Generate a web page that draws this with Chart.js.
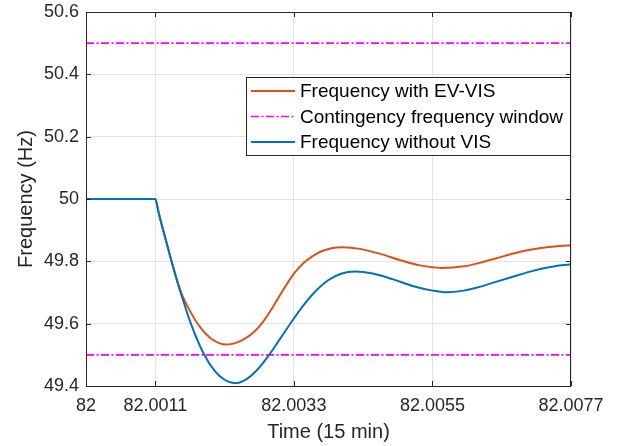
<!DOCTYPE html>
<html>
<head>
<meta charset="utf-8">
<script src="https://cdn.jsdelivr.net/npm/chart.js@4"></script>
<style>
  html,body{margin:0;padding:0;background:#fff;}
  canvas{display:block;}
</style>
</head>
<body>
<canvas id="freqChart" width="617" height="446"></canvas>
<script>
// ---------------- DATA ----------------
const timeWithVIS = [82, 82.0011, 82.00115, 82.0012, 82.00136, 82.00144, 82.00152, 82.00165, 82.0018,
  82.002, 82.002223, 82.00245, 82.00262, 82.002789, 82.00296, 82.00313, 82.003307, 82.00345,
  82.0036, 82.00375, 82.0039, 82.00407, 82.00435, 82.00467, 82.005, 82.0053, 82.00565, 82.006,
  82.00625, 82.00652, 82.0068, 82.00705, 82.00735, 82.0077];
const freqWithVIS = [50, 50, 49.959, 49.919, 49.799, 49.742, 49.695, 49.641, 49.592,
  49.550, 49.533, 49.544, 49.565, 49.600, 49.651, 49.708, 49.762, 49.794,
  49.817, 49.833, 49.842, 49.845, 49.840, 49.824, 49.803, 49.787, 49.779, 49.784,
  49.795, 49.810, 49.826, 49.837, 49.846, 49.852];
const timeWithoutVIS = [82, 82.0011, 82.00115, 82.0012, 82.00136, 82.00144, 82.0015, 82.001662,
  82.001873, 82.00205, 82.0022, 82.002366, 82.00255, 82.0027, 82.002879, 82.00307, 82.003265,
  82.00343, 82.00361, 82.00385, 82.00405, 82.00427, 82.00455, 82.00488, 82.0052, 82.0055,
  82.0057, 82.006, 82.00625, 82.00652, 82.0068, 82.00705, 82.00735, 82.0077];
const freqWithoutVIS = [50, 50, 49.959, 49.919, 49.799, 49.742, 49.702, 49.602,
  49.502, 49.447, 49.420, 49.409, 49.422, 49.448, 49.492, 49.548, 49.606,
  49.653, 49.697, 49.740, 49.760, 49.767, 49.761, 49.742, 49.720, 49.706,
  49.701, 49.706, 49.718, 49.735, 49.752, 49.767, 49.781, 49.791];
const windowLimits = [50.5, 49.5];
const xTicks = [82, 82.0011, 82.0033, 82.0055, 82.0077];
const xTickLabels = ["82", "82.0011", "82.0033", "82.0055", "82.0077"];
const yTicks = [49.4, 49.6, 49.8, 50, 50.2, 50.4, 50.6];
const yTickLabels = ["49.4", "49.6", "49.8", "50", "50.2", "50.4", "50.6"];

const FONT = "'Liberation Sans', Arial, Helvetica, sans-serif";
const AXIS_COL = "#262626";

const toPts = (xs,ys) => xs.map((t,i)=>({x:t,y:ys[i]}));
const flatLine = v => [{x:xTicks[0],y:v},{x:xTicks[xTicks.length-1],y:v}];

// ---------------- BOX, INWARD TICKS, LEGEND ----------------
const matlabFrame = {
  id: "matlabFrame",
  afterDraw(chart){
    const {ctx, chartArea:a, scales:{x,y}} = chart;
    const tl = 5;
    ctx.save();
    ctx.strokeStyle = AXIS_COL;
    ctx.lineWidth = 1;
    ctx.beginPath();
    xTicks.forEach(v=>{
      const px = Math.round(x.getPixelForValue(v))+0.5;
      ctx.moveTo(px,a.bottom); ctx.lineTo(px,a.bottom-tl);
      ctx.moveTo(px,a.top); ctx.lineTo(px,a.top+tl);
    });
    yTicks.forEach(v=>{
      const py = Math.round(y.getPixelForValue(v))+0.5;
      ctx.moveTo(a.left,py); ctx.lineTo(a.left+tl,py);
      ctx.moveTo(a.right,py); ctx.lineTo(a.right-tl,py);
    });
    ctx.stroke();
    ctx.strokeRect(Math.round(a.left)+0.5, Math.round(a.top)+0.5,
                   Math.round(a.right-a.left)-1, Math.round(a.bottom-a.top));

    // legend box
    const lx=246.5, ly=77.5, lw=324, lh=78;
    ctx.fillStyle="#fff";
    ctx.fillRect(lx,ly,lw,lh);
    ctx.strokeStyle="#262626";
    ctx.strokeRect(lx,ly,lw,lh);
    const rows = chart.data.datasets.filter(d=>!d.legendSkip);
    rows.forEach((d,i)=>{
      const cy = 91 + i*25.5;
      ctx.strokeStyle = d.borderColor;
      ctx.lineWidth = d.borderWidth;
      ctx.setLineDash(d.borderDash || []);
      ctx.beginPath(); ctx.moveTo(251,cy); ctx.lineTo(295,cy); ctx.stroke();
      ctx.setLineDash([]);
      ctx.fillStyle = "#000";
      ctx.font = "19px " + FONT;
      ctx.textBaseline = "middle";
      ctx.textAlign = "left";
      ctx.fillText(d.label, 300, cy+1);
    });
    ctx.restore();
  }
};

// ---------------- CHART ----------------
const dashDot = [8,2.5,2,2.5];
new Chart(document.getElementById("freqChart").getContext("2d"),{
  type:"line",
  data:{
    datasets:[
      {label:"Frequency with EV-VIS", data:toPts(timeWithVIS,freqWithVIS), borderColor:"#D95319",
       borderWidth:2, order:1},
      {label:"Contingency frequency window", data:flatLine(windowLimits[0]), borderColor:"#FF00FF",
       borderWidth:1.7, borderDash:dashDot, order:2},
      {label:"Frequency without VIS", data:toPts(timeWithoutVIS,freqWithoutVIS), borderColor:"#0072BD",
       borderWidth:2, order:0},
      {label:"Contingency frequency window", data:flatLine(windowLimits[1]), borderColor:"#FF00FF",
       borderWidth:1.7, borderDash:dashDot, order:2, legendSkip:true}
    ]
  },
  options:{
    responsive:false,
    devicePixelRatio:1,
    animation:false,
    layout:{padding:{left:0,top:12,right:46,bottom:0}},
    elements:{point:{radius:0}, line:{cubicInterpolationMode:"monotone", fill:false}},
    plugins:{legend:{display:false}, tooltip:{enabled:false}},
    scales:{
      x:{
        type:"linear", min:xTicks[0], max:xTicks[xTicks.length-1],
        afterBuildTicks:s=>{s.ticks = xTicks.map(v=>({value:v}));},
        afterFit:s=>{s.height = 60; s.paddingLeft = 0; s.paddingRight = 0;},
        ticks:{color:AXIS_COL, font:{family:FONT,size:18}, padding:9, maxRotation:0, autoSkip:false,
               callback:(v,i)=>xTickLabels[i]},
        grid:{color:"#e3e3e3", drawTicks:false},
        border:{display:false},
        title:{display:true, text:"Time (15 min)", color:AXIS_COL,
               font:{family:FONT,size:20}, padding:{top:0,bottom:2}}
      },
      y:{
        min:yTicks[0], max:yTicks[yTicks.length-1],
        afterBuildTicks:s=>{s.ticks = yTicks.map(v=>({value:v}));},
        afterFit:s=>{s.width = 86; s.paddingTop = 0; s.paddingBottom = 0;},
        ticks:{color:AXIS_COL, font:{family:FONT,size:18}, padding:7, autoSkip:false,
               callback:(v,i)=>yTickLabels[i]},
        grid:{color:"#e3e3e3", drawTicks:false},
        border:{display:false},
        title:{display:true, text:"Frequency (Hz)", color:AXIS_COL,
               font:{family:FONT,size:20}, padding:{top:14,bottom:0}}
      }
    }
  },
  plugins:[matlabFrame]
});
</script>
</body>
</html>
